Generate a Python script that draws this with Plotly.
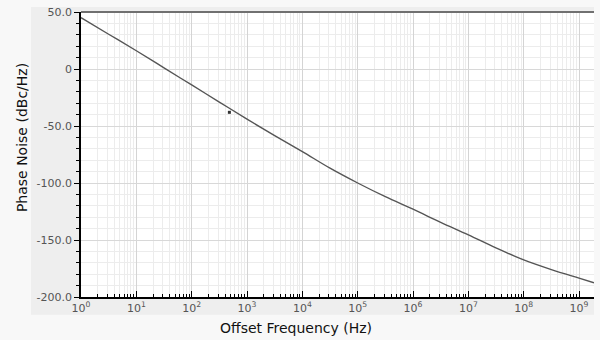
import plotly.graph_objects as go

# Phase noise vs. offset frequency (read at decade / half-decade offsets)
offset_hz = [1, 3.16, 10, 31.6, 100, 316, 1e3, 3.16e3, 1e4, 3.16e4, 1e5, 3.16e5,
             1e6, 3.16e6, 1e7, 3.16e7, 1e8, 3.16e8, 1e9, 1.86e9]
phase_noise = [45, 30.5, 16, 1, -14, -29, -44, -58.5, -72.5, -87, -100, -112,
               -123, -134.5, -145.5, -157, -167.5, -176, -183.5, -187.5]

# single marked sample
mark_hz = [480]
mark_val = [-38]

y_ticks = [50, 0, -50, -100, -150, -200]
y_tick_text = ["50.0", "0", "-50.0", "-100.0", "-150.0", "-200.0"]
x_ticks = [10 ** k for k in range(10)]
x_tick_text = [f"10<sup>{k}</sup>" for k in range(10)]

# plot-area geometry in pixels
W, H = 600, 340
L, R, T, B = 81, 6, 10, 43
pw, ph = W - L - R, H - T - B


def px(x):
    return (x - L) / pw


def py(y):
    return (H - B - y) / ph


tick_font = dict(family="DejaVu Sans", size=11, color="#555555")

fig = go.Figure()
fig.add_trace(go.Scatter(x=offset_hz, y=phase_noise, mode="lines",
                         line=dict(color="#555555", width=1.4, shape="spline"),
                         hoverinfo="x+y", showlegend=False))
fig.add_trace(go.Scatter(x=mark_hz, y=mark_val, mode="markers",
                         marker=dict(color="#333333", size=3, symbol="square"),
                         showlegend=False))

fig.update_layout(
    width=W, height=H,
    margin=dict(l=L, r=R, t=T, b=B),
    paper_bgcolor="#f8f8f8",
    plot_bgcolor="#ffffff",
    showlegend=False,
    xaxis=dict(
        type="log", range=[0, 9.27],
        tickvals=x_ticks, ticktext=x_tick_text,
        ticks="inside", ticklen=6, tickcolor="#000000", tickwidth=1,
        tickfont=tick_font,
        showline=True, linecolor="#000000", linewidth=1.5,
        showgrid=True, gridcolor="#d4d4d4", gridwidth=1,
        minor=dict(dtick="D1", ticks="inside", ticklen=3, tickcolor="#000000",
                   showgrid=True, gridcolor="#ececec", gridwidth=1),
        zeroline=False,
    ),
    yaxis=dict(
        range=[-200, 50],
        tickvals=y_ticks, ticktext=y_tick_text,
        ticks="outside", ticklen=5, tickcolor="#000000", tickwidth=1,
        tickfont=tick_font,
        showline=True, linecolor="#000000", linewidth=1.5,
        showgrid=True, gridcolor="#d8d8d8", gridwidth=1,
        minor=dict(dtick=10, ticks="outside", ticklen=3, tickcolor="#000000",
                   showgrid=True, gridcolor="#ececec", gridwidth=1),
        zeroline=False,
    ),
    shapes=[
        # grey frame behind the axes and tick labels
        dict(type="rect", xref="paper", yref="paper",
             x0=px(31), x1=px(594), y0=py(315), y1=py(5),
             fillcolor="#eeeeee", line=dict(width=0), layer="below"),
        # white plotting surface on top of the frame, under the grid
        dict(type="rect", xref="paper", yref="paper",
             x0=0, x1=1, y0=0, y1=1,
             fillcolor="#ffffff", line=dict(width=0), layer="below"),
        # top border of the plot
        dict(type="line", xref="paper", yref="paper",
             x0=0, x1=1, y0=1, y1=1,
             line=dict(color="#707070", width=2)),
    ],
    annotations=[
        dict(text="Offset Frequency (Hz)", xref="paper", yref="paper",
             x=px(296), y=py(328), showarrow=False,
             font=dict(family="DejaVu Sans", size=14, color="#111111"),
             xanchor="center", yanchor="middle"),
        dict(text="Phase Noise (dBc/Hz)", xref="paper", yref="paper",
             x=px(22), y=py(137), showarrow=False, textangle=-90,
             font=dict(family="DejaVu Sans", size=14, color="#111111"),
             xanchor="center", yanchor="middle"),
    ],
)

fig.write_html("out.html")
